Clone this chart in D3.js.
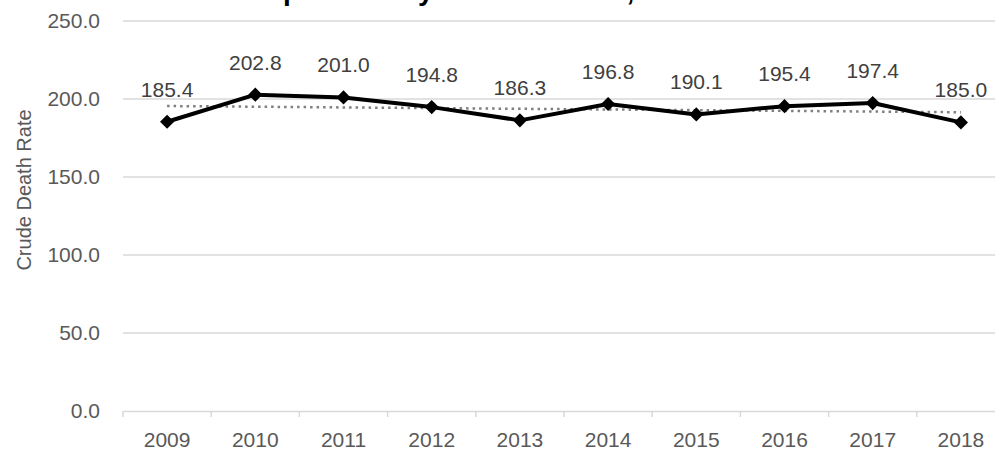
<!DOCTYPE html>
<html>
<head>
<meta charset="utf-8">
<script src="https://cdn.jsdelivr.net/npm/d3@7"></script>
<style>
  html, body { margin: 0; padding: 0; background: #fff; }
  svg { display: block; font-family: Arial, "Liberation Sans", sans-serif; }
</style>
</head>
<body>
<svg id="chart" width="995" height="453"></svg>
<script>
// --- Data ---
const years = ["2009", "2010", "2011", "2012", "2013", "2014", "2015", "2016", "2017", "2018"];
const rates = [185.4, 202.8, 201.0, 194.8, 186.3, 196.8, 190.1, 195.4, 197.4, 185.0];
const yTicks = [0, 50, 100, 150, 200, 250];
const titleText = "Crude Death Rate per Year by Heart Disease, 2009-2018";

const svg = d3.select("#chart");

// plot area (right edge runs past the picture, as in the reference)
const plot = { left: 123, right: 1005, top: 21, bottom: 411 };

const x = d3.scaleBand().domain(years).range([plot.left, plot.right]);
const y = d3.scaleLinear().domain([0, 250]).range([plot.bottom, plot.top]);

// --- Title (only the descenders show at the top edge) ---
const title = svg.append("text")
    .attr("x", 0)
    .attr("y", -0.5)
    .attr("font-size", 28)
    .attr("font-weight", "bold")
    .attr("fill", "#000")
    .text(titleText);
// line the "p" of "per" up with where it sits in the reference
const pIdx = titleText.indexOf("per");
const pX = title.node().getStartPositionOfChar(pIdx).x;
title.attr("x", 283 - pX);

// --- Gridlines ---
svg.append("g")
    .selectAll("line")
    .data(yTicks.filter(d => d > 0))
    .enter()
    .append("line")
    .attr("x1", plot.left)
    .attr("x2", plot.right)
    .attr("y1", d => y(d))
    .attr("y2", d => y(d))
    .attr("stroke", "#d9d9d9")
    .attr("stroke-width", 1.5);

// --- Y axis labels ---
const yAxis = svg.append("g")
    .attr("transform", `translate(${plot.left},0)`)
    .call(d3.axisLeft(y).tickValues(yTicks).tickFormat(d3.format(".1f")).tickSize(0).tickPadding(23));
yAxis.select(".domain").remove();
yAxis.selectAll("text")
    .attr("font-size", 21)
    .attr("font-family", "Arial, 'Liberation Sans', sans-serif")
    .attr("fill", "#595959");

// --- X axis ---
const xAxis = svg.append("g")
    .attr("transform", `translate(0,${plot.bottom})`)
    .call(d3.axisBottom(x).tickSize(0).tickPadding(21));
xAxis.select(".domain").attr("stroke", "#d9d9d9").attr("stroke-width", 1.5);
xAxis.selectAll("text")
    .attr("font-size", 21)
    .attr("font-family", "Arial, 'Liberation Sans', sans-serif")
    .attr("fill", "#595959");
// tick marks between categories
xAxis.selectAll(".sep")
    .data(years)
    .enter()
    .append("line")
    .attr("x1", d => x(d))
    .attr("x2", d => x(d))
    .attr("y1", 0)
    .attr("y2", 6)
    .attr("stroke", "#d9d9d9")
    .attr("stroke-width", 1.5);

// --- Y axis title ---
svg.append("text")
    .attr("transform", `translate(31,${(plot.top + plot.bottom) / 2 - 26}) rotate(-90)`)
    .attr("text-anchor", "middle")
    .attr("font-size", 20)
    .attr("fill", "#595959")
    .text("Crude Death Rate");

// --- Linear trendline ---
const n = rates.length;
const xi = d3.range(n);
const xm = d3.mean(xi), ym = d3.mean(rates);
const slope = d3.sum(xi, i => (i - xm) * (rates[i] - ym)) / d3.sum(xi, i => (i - xm) ** 2);
const icpt = ym - slope * xm;
const cx = d => x(d) + x.bandwidth() / 2;

svg.append("line")
    .attr("x1", cx(years[0]))
    .attr("x2", cx(years[n - 1]))
    .attr("y1", y(icpt))
    .attr("y2", y(icpt + slope * (n - 1)))
    .attr("stroke", "#7f7f7f")
    .attr("stroke-width", 2.5)
    .attr("stroke-dasharray", "2.5,4");

// --- Series line ---
const line = d3.line()
    .x((d, i) => cx(years[i]))
    .y(d => y(d));

svg.append("path")
    .datum(rates)
    .attr("fill", "none")
    .attr("stroke", "#000")
    .attr("stroke-width", 4)
    .attr("stroke-linejoin", "round")
    .attr("d", line);

// diamond markers (square turned 45 degrees)
svg.append("g")
    .selectAll("path")
    .data(rates)
    .enter()
    .append("path")
    .attr("d", d3.symbol().type(d3.symbolSquare).size(100))
    .attr("transform", (d, i) => `translate(${cx(years[i])},${y(d)}) rotate(45)`)
    .attr("fill", "#000");

// --- Data labels ---
svg.append("g")
    .selectAll("text")
    .data(rates)
    .enter()
    .append("text")
    .attr("x", (d, i) => cx(years[i]))
    .attr("y", d => y(d) - 25)
    .attr("text-anchor", "middle")
    .attr("font-size", 21)
    .attr("fill", "#404040")
    .text(d => d.toFixed(1));
</script>
</body>
</html>
